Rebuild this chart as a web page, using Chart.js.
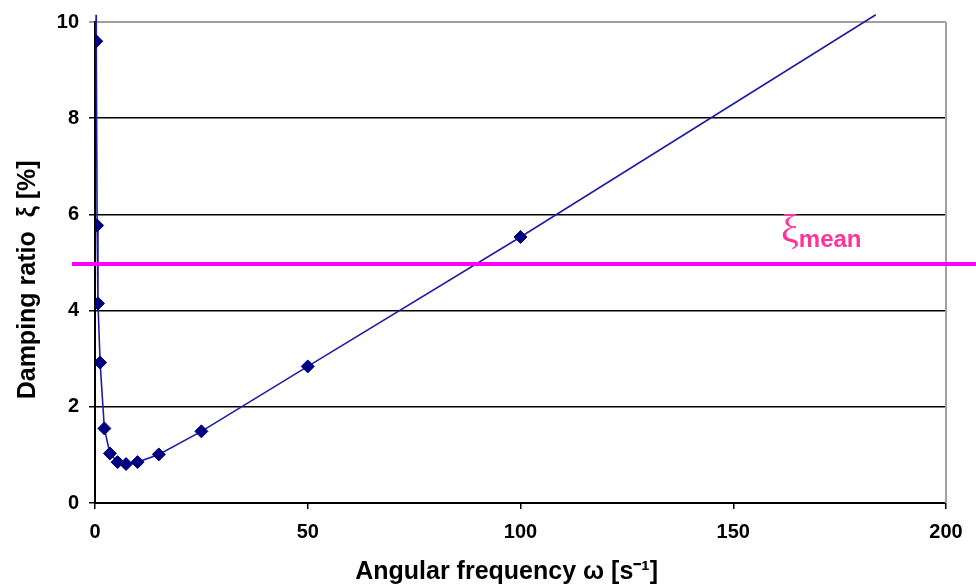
<!DOCTYPE html>
<html>
<head>
<meta charset="utf-8">
<script src="https://cdn.jsdelivr.net/npm/chart.js@4/dist/chart.umd.min.js"></script>
<style>
  html, body { margin: 0; padding: 0; background: #fff; }
  #wrap { width: 976px; height: 587px; position: relative; }
</style>
</head>
<body>
<div id="wrap"><canvas id="c" width="976" height="587"></canvas></div>
<script>
// ---- data ----
const omega        = [0.3, 0.5, 0.7, 1.2, 2.2, 3.5, 5.3, 7.3, 10, 15, 25, 50, 100];
const dampingRatio = [9.6, 5.77, 4.15, 2.92, 1.55, 1.03, 0.85, 0.81, 0.85, 1.01, 1.49, 2.84, 5.53];
// the drawn curve runs past the top of the plot at both ends
const curveStart   = [0.25, 10.15];
const curveEnd     = [183.5, 10.15];
const meanDamping  = 4.97;
const meanLabelMain = 'ξ';
const meanLabelSub  = 'mean';
const xTicks = [0, 50, 100, 150, 200];
const yTicks = [0, 2, 4, 6, 8, 10];
const xTitle = 'Angular frequency ω [s⁻¹]';
const yTitle = 'Damping ratio  ξ [%]';

const linePoints = [{x: curveStart[0], y: curveStart[1]}]
  .concat(omega.map((w, i) => ({x: w, y: dampingRatio[i]})))
  .concat([{x: curveEnd[0], y: curveEnd[1]}]);
const markerPoints = omega.map((w, i) => ({x: w, y: dampingRatio[i]}));

const meanPlugin = {
  id: 'meanLine',
  afterDatasetsDraw(chart) {
    const ctx = chart.ctx;
    const ys = chart.scales.y, xs = chart.scales.x;
    const y = ys.getPixelForValue(meanDamping);
    ctx.save();
    // right plot border
    ctx.strokeStyle = '#a0a0a0';
    ctx.lineWidth = 2;
    ctx.beginPath();
    ctx.moveTo(chart.chartArea.right, chart.chartArea.top);
    ctx.lineTo(chart.chartArea.right, chart.chartArea.bottom);
    ctx.stroke();
    // mean line
    ctx.strokeStyle = '#ff00ff';
    ctx.lineWidth = 4;
    ctx.beginPath();
    ctx.moveTo(xs.left - 23, y);
    ctx.lineTo(chart.width, y);
    ctx.stroke();
    // label
    ctx.fillStyle = '#ff3399';
    ctx.textBaseline = 'alphabetic';
    ctx.font = '40px "Liberation Serif", "DejaVu Serif", serif';
    const lx = 781;
    ctx.fillText(meanLabelMain, lx, y - 22);
    const w = ctx.measureText(meanLabelMain).width;
    ctx.font = 'bold 24px "Liberation Sans", Arial, sans-serif';
    ctx.fillText(meanLabelSub, lx + w, y - 17);
    ctx.restore();
  }
};

const tickFont = { family: '"Liberation Sans", Arial, sans-serif', size: 20, weight: 'bold' };

new Chart(document.getElementById('c'), {
  type: 'scatter',
  data: {
    datasets: [
      {
        type: 'line',
        data: linePoints,
        borderColor: '#1f1f9e',
        borderWidth: 1.6,
        pointRadius: 0,
        fill: false,
        tension: 0,
        clip: false,
        order: 2
      },
      {
        data: markerPoints,
        pointStyle: 'rectRot',
        pointRadius: 6.5,
        backgroundColor: '#000080',
        borderColor: '#000080',
        borderWidth: 1,
        showLine: false,
        order: 1
      }
    ]
  },
  plugins: [meanPlugin],
  options: {
    responsive: false,
    animation: false,
    events: [],
    layout: { padding: { top: 20, right: 30, left: 0, bottom: 0 } },
    plugins: { legend: { display: false }, tooltip: { enabled: false } },
    scales: {
      x: {
        type: 'linear',
        min: 0, max: 200,
        afterBuildTicks(scale) { scale.ticks = xTicks.map(v => ({value: v})); },
        afterFit(scale) { scale.height = 84; },
        ticks: { font: tickFont, color: '#000', padding: 11, maxRotation: 0 },
        grid: { drawOnChartArea: false, drawTicks: true, tickLength: 6, color: '#000', lineWidth: 1.5 },
        border: { color: '#000', width: 2 },
        title: {
          display: true, text: xTitle + '    ', color: '#000',
          font: { family: '"Liberation Sans", Arial, sans-serif', size: 25, weight: 'bold' },
          padding: { top: 0, bottom: 0 }
        }
      },
      y: {
        type: 'linear',
        min: 0, max: 10,
        afterBuildTicks(scale) { scale.ticks = yTicks.map(v => ({value: v})); },
        afterFit(scale) { scale.width = 95; },
        ticks: { font: tickFont, color: '#000', padding: 10 },
        grid: {
          drawTicks: true, tickLength: 6,
          color: (c) => (c.tick && c.tick.value === 10) ? '#a0a0a0' : '#000',
          lineWidth: (c) => (c.tick && c.tick.value === 10) ? 2 : 1.5
        },
        border: { color: '#000', width: 2 },
        title: {
          display: true, text: yTitle + '     ', color: '#000',
          font: { family: '"Liberation Sans", Arial, sans-serif', size: 25, weight: 'bold' },
          padding: { top: 13, bottom: 0 }
        }
      }
    }
  }
});
</script>
</body>
</html>
